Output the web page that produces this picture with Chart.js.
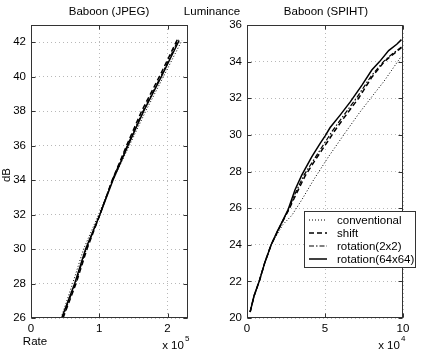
<!DOCTYPE html>
<html><head><meta charset="utf-8">
<script src="https://cdn.jsdelivr.net/npm/chart.js@4.4.0/dist/chart.umd.min.js"></script>
<style>
html,body{margin:0;padding:0;background:#fff;}
#wrap{position:relative;width:425px;height:353px;overflow:hidden;font-family:'Liberation Sans',Arial,Helvetica,sans-serif;font-size:11.5px;color:#000;}
.c{position:absolute;top:0;}
.t{position:absolute;white-space:nowrap;transform:translate(-50%,-50%);line-height:1;}
.sup{position:absolute;white-space:nowrap;font-size:8px;line-height:1;}
</style></head><body>
<div id="wrap">
<canvas id="c1" class="c" style="left:0" width="212" height="353"></canvas>
<canvas id="c2" class="c" style="left:212px" width="213" height="353"></canvas>
<div class="t" style="left:109px;top:12px">Baboon (JPEG)</div>
<div class="t" style="left:212px;top:12px">Luminance</div>
<div class="t" style="left:326px;top:12px">Baboon (SPIHT)</div>
<div class="t" style="left:7px;top:175px;transform:translate(-50%,-50%) rotate(-90deg)">dB</div>
<div class="t" style="left:35px;top:342px">Rate</div>
<div class="t" style="left:173px;top:346px">x 10</div>
<div class="sup" style="left:185px;top:335px">5</div>
<div class="t" style="left:389px;top:346px">x 10</div>
<div class="sup" style="left:401px;top:335px">4</div>
</div>
<script>
// ---- JPEG (rate in units of 1e5) ----
const jpegConvRate  = [0.44, 0.61, 0.77, 0.99, 1.20, 1.44, 1.68, 1.94, 2.21];
const jpegConvDB    = [26, 28, 30, 32, 34, 36, 38, 40, 42.1];
const jpegShiftRate = [0.47, 0.66, 0.82, 1.01, 1.19, 1.40, 1.62, 1.88, 2.15];
const jpegShiftDB   = [26, 28, 30, 32, 34, 36, 38, 40, 42.2];
const jpegRot2Rate  = [0.46, 0.65, 0.81, 1.01, 1.19, 1.41, 1.64, 1.90, 2.16];
const jpegRot2DB    = [26, 28, 30, 32, 34, 36, 38, 40, 42.15];
const jpegRot64Rate = [0.45, 0.64, 0.80, 1.01, 1.20, 1.42, 1.65, 1.91, 2.17];
const jpegRot64DB   = [26, 28, 30, 32, 34, 36, 38, 40, 42.1];
const jpegXTicks = [0, 1, 2];
const jpegYTicks = [26, 28, 30, 32, 34, 36, 38, 40, 42];

// ---- SPIHT (rate in units of 1e4) ----
const spihtConvRate  = [0.2, 0.45, 0.8, 1.15, 1.55, 1.95, 2.3, 2.87, 3.51, 4.26, 5.22, 6.2, 7.2, 8.2, 8.76, 9.9];
const spihtConvDB    = [20.33, 21.2, 22.1, 23.05, 24.0, 24.6, 25.1, 25.6, 26.45, 27.53, 28.8, 30.0, 31.2, 32.3, 32.9, 34.3];
const spihtShiftRate = [0.2, 0.45, 0.8, 1.15, 1.55, 1.95, 2.3, 2.7, 3.0, 3.72, 4.47, 5.22, 5.6, 6.19, 7.15, 8.0, 8.8, 9.3, 9.9];
const spihtShiftDB   = [20.33, 21.2, 22.05, 23.05, 24.0, 24.7, 25.3, 25.95, 26.5, 27.75, 28.75, 29.7, 30.2, 30.9, 32.0, 33.15, 34.0, 34.35, 34.76];
const spihtRot2Rate  = [0.2, 0.45, 0.8, 1.15, 1.55, 1.95, 2.3, 2.7, 2.95, 3.65, 4.4, 5.12, 5.5, 6.1, 7.05, 7.95, 8.75, 9.25, 9.9];
const spihtRot2DB    = [20.33, 21.2, 22.05, 23.05, 24.0, 24.72, 25.32, 25.97, 26.55, 27.8, 28.8, 29.75, 30.25, 30.95, 32.05, 33.2, 34.0, 34.38, 34.8];
const spihtRot64Rate = [0.2, 0.45, 0.8, 1.15, 1.55, 1.95, 2.3, 2.65, 3.08, 3.51, 4.15, 4.7, 5.01, 5.33, 5.97, 6.62, 7.37, 8.0, 8.5, 9.08, 9.6, 9.9];
const spihtRot64DB   = [20.33, 21.2, 22.05, 23.05, 24.0, 24.75, 25.33, 25.95, 27.0, 27.8, 28.8, 29.55, 29.95, 30.4, 31.08, 31.8, 32.72, 33.54, 34.0, 34.6, 34.95, 35.2];
const spihtXTicks = [0, 5, 10];
const spihtYTicks = [20, 22, 24, 26, 28, 30, 32, 34, 36];

const seriesNames = ['conventional', 'shift', 'rotation(2x2)', 'rotation(64x64)'];

const FONT = "'Liberation Sans', Arial, Helvetica, sans-serif";
const styles = [
  {borderWidth: 1, borderDash: [1, 2]},
  {borderWidth: 1.5, borderDash: [5, 3]},
  {borderWidth: 1.2, borderDash: [5, 2, 1.5, 2]},
  {borderWidth: 1.5, borderDash: []}
];
function pts(xs, ys){ return xs.map((x, i) => ({x: x, y: ys[i]})); }
function makeDatasets(pairs){
  return pairs.map((p, i) => Object.assign({
    label: seriesNames[i], data: pts(p[0], p[1]), borderColor: '#000',
    pointRadius: 0, tension: 0, fill: false
  }, styles[i]));
}

const framePlugin = {
  id: 'frame',
  afterDraw(chart){
    const ctx = chart.ctx, a = chart.chartArea, sx = chart.scales.x, sy = chart.scales.y;
    ctx.save();
    ctx.strokeStyle = '#333'; ctx.lineWidth = 1; ctx.setLineDash([]);
    const L = Math.round(a.left) + 0.5, R = Math.round(a.right) - 0.5, T = Math.round(a.top) + 0.5, B = Math.round(a.bottom) - 0.5;
    ctx.strokeRect(L, T, R - L, B - T);
    ctx.beginPath();
    sx.ticks.forEach(t => { const p = Math.round(sx.getPixelForValue(t.value)) + 0.5;
      ctx.moveTo(p, B); ctx.lineTo(p, B - 4); ctx.moveTo(p, T); ctx.lineTo(p, T + 4); });
    sy.ticks.forEach(t => { const p = Math.round(sy.getPixelForValue(t.value)) + 0.5;
      ctx.moveTo(L, p); ctx.lineTo(L + 4, p); ctx.moveTo(R, p); ctx.lineTo(R - 4, p); });
    ctx.stroke();
    ctx.restore();
  }
};

const legendPlugin = {
  id: 'boxlegend',
  afterDraw(chart){
    const ctx = chart.ctx;
    const x0 = 92.5, y0 = 211.5, w = 111, h = 56;
    ctx.save();
    ctx.fillStyle = '#fff'; ctx.fillRect(x0, y0, w, h);
    ctx.strokeStyle = '#333'; ctx.lineWidth = 1; ctx.setLineDash([]);
    ctx.strokeRect(x0, y0, w, h);
    const rows = [220, 233, 246, 259];
    chart.data.datasets.forEach((ds, i) => {
      const y = rows[i];
      ctx.strokeStyle = '#000'; ctx.lineWidth = ds.borderWidth; ctx.setLineDash(ds.borderDash);
      ctx.beginPath(); ctx.moveTo(97, y); ctx.lineTo(115, y); ctx.stroke();
      ctx.setLineDash([]);
      ctx.fillStyle = '#000'; ctx.font = '11.5px ' + FONT; ctx.textBaseline = 'middle';
      ctx.fillText(ds.label, 125, y + 0.5);
    });
    ctx.restore();
  }
};

function makeOptions(xMax, yMin, yMax, xTicks, yTicks, pad, yw, xh){
  const tickFont = {family: FONT, size: 11.5};
  return {
    responsive: false, animation: false, devicePixelRatio: 1,
    layout: {padding: pad},
    plugins: {legend: {display: false}, tooltip: {enabled: false}, title: {display: false}},
    scales: {
      x: {type: 'linear', min: 0, max: xMax,
        afterBuildTicks: s => { s.ticks = xTicks.map(v => ({value: v})); },
        afterFit: s => { s.height = xh; },
        grid: {color: '#b8b8b8', drawTicks: false, lineWidth: 1},
        border: {display: false, dash: [1, 3]},
        ticks: {color: '#000', font: tickFont, padding: 4, maxRotation: 0}},
      y: {type: 'linear', min: yMin, max: yMax,
        afterBuildTicks: s => { s.ticks = yTicks.map(v => ({value: v})); },
        afterFit: s => { s.width = yw; },
        grid: {color: '#b8b8b8', drawTicks: false, lineWidth: 1},
        border: {display: false, dash: [1, 3]},
        ticks: {color: '#000', font: tickFont, padding: 5}}
    }
  };
}

new Chart(document.getElementById('c1'), {
  type: 'line',
  data: {datasets: makeDatasets([[jpegConvRate, jpegConvDB], [jpegShiftRate, jpegShiftDB], [jpegRot2Rate, jpegRot2DB], [jpegRot64Rate, jpegRot64DB]])},
  options: makeOptions(2.3, 26, 43, jpegXTicks, jpegYTicks, {left: 0, top: 25, right: 24, bottom: 0}, 31, 35),
  plugins: [framePlugin]
});

new Chart(document.getElementById('c2'), {
  type: 'line',
  data: {datasets: makeDatasets([[spihtConvRate, spihtConvDB], [spihtShiftRate, spihtShiftDB], [spihtRot2Rate, spihtRot2DB], [spihtRot64Rate, spihtRot64DB]])},
  options: makeOptions(10, 20, 36, spihtXTicks, spihtYTicks, {left: 0, top: 25, right: 22, bottom: 0}, 35, 35),
  plugins: [framePlugin, legendPlugin]
});
</script>
</body></html>
